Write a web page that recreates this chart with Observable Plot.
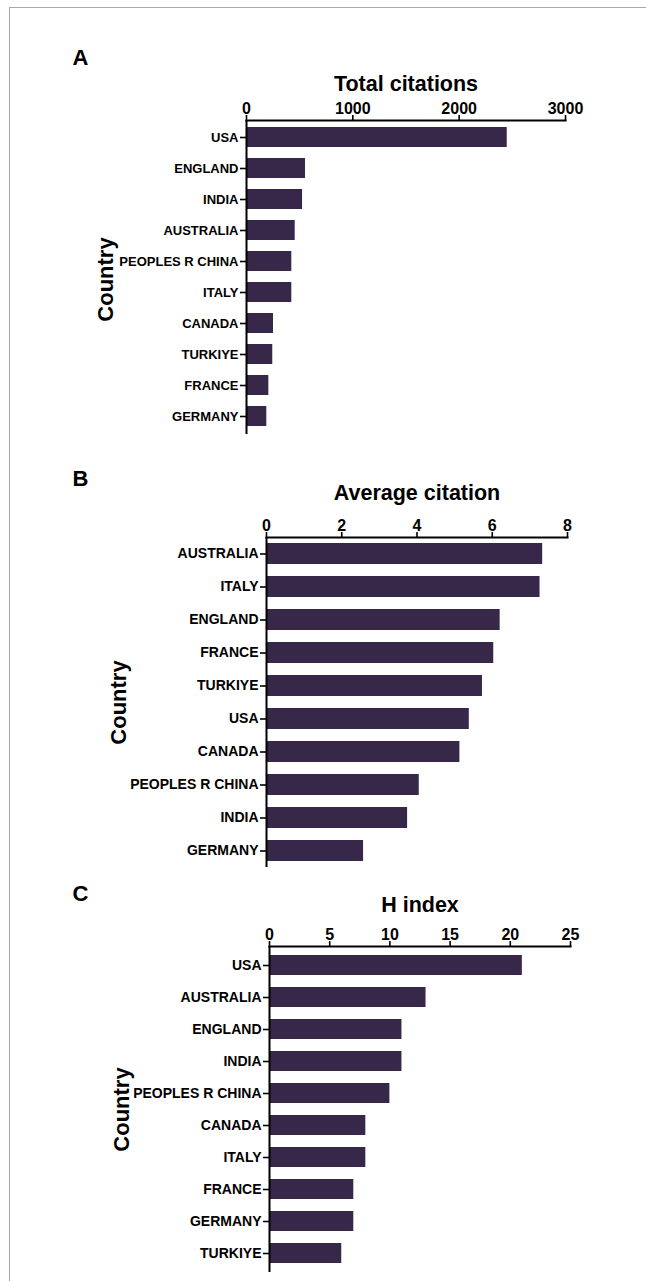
<!DOCTYPE html>
<html>
<head>
<meta charset="utf-8">
<script src="https://cdn.jsdelivr.net/npm/d3@7"></script>
<script src="https://cdn.jsdelivr.net/npm/@observablehq/plot@0.6"></script>
<style>
  html, body { margin: 0; padding: 0; background: #fff; }
  #wrap { position: relative; width: 646px; height: 1281px; overflow: hidden; background: #fff;
          font-family: "Liberation Sans", Arial, sans-serif; }
  #border { position: absolute; left: 9px; top: 7px; right: -2px; bottom: -2px;
            border-left: 1.5px solid #a8a8a8; border-top: 1.5px solid #a8a8a8; }
  .panel { position: absolute; left: 0; }
</style>
</head>
<body>
<div id="wrap"><div id="border"></div></div>
<script>
// ---- data ----
const countriesA = ["USA","ENGLAND","INDIA","AUSTRALIA","PEOPLES R CHINA","ITALY","CANADA","TURKIYE","FRANCE","GERMANY"];
const totalCitations = [2452, 555, 527, 458, 426, 426, 254, 247, 210, 191];

const countriesB = ["AUSTRALIA","ITALY","ENGLAND","FRANCE","TURKIYE","USA","CANADA","PEOPLES R CHINA","INDIA","GERMANY"];
const averageCitation = [7.34, 7.27, 6.21, 6.04, 5.74, 5.39, 5.14, 4.06, 3.75, 2.58];

const countriesC = ["USA","AUSTRALIA","ENGLAND","INDIA","PEOPLES R CHINA","CANADA","ITALY","FRANCE","GERMANY","TURKIYE"];
const hIndex = [21, 13, 11, 11, 10, 8, 8, 7, 7, 6];

const ticksA = [0, 1000, 2000, 3000];
const ticksB = [0, 2, 4, 6, 8];
const ticksC = [0, 5, 10, 15, 20, 25];

const panelLetters = ["A", "B", "C"];
const titles = ["Total citations", "Average citation", "H index"];
const yAxisLabel = "Country";

// ---- drawing ----
const W = 646;
const barColor = "#372749";
const font = "'Liberation Sans', Arial, Helvetica, sans-serif";

function panel(cfg) {
  const data = cfg.countries.map((c, i) => ({country: c, value: cfg.values[i]}));
  const marginTop = cfg.axisY - cfg.top;
  const inner = cfg.step * cfg.countries.length;
  const height = marginTop + inner + cfg.bottomPad;
  const chart = Plot.plot({
    width: W,
    height,
    marginTop,
    marginBottom: cfg.bottomPad,
    marginLeft: cfg.x0,
    marginRight: W - cfg.x1,
    style: {fontFamily: font, background: "transparent", color: "#000", overflow: "visible"},
    x: {domain: [0, cfg.max], axis: null},
    y: {domain: cfg.countries, paddingInner: cfg.padInner, paddingOuter: cfg.padInner / 2, axis: null},
    marks: [
      Plot.barX(data, {x: "value", y: "country", fill: barColor}),
      Plot.axisX({anchor: "top", ticks: cfg.ticks, tickSize: 6, tickPadding: 1, strokeWidth: 1.6,
                  fontSize: 16, fontWeight: "bold", label: null, tickFormat: d => String(d)}),
      Plot.axisY({anchor: "left", tickSize: 6, tickPadding: 2, strokeWidth: 1.6,
                  fontSize: cfg.fontY, fontWeight: "bold", label: null}),
      Plot.ruleX([0], {stroke: "#000", strokeWidth: 2}),
      Plot.frame({anchor: "top", stroke: "#000", strokeWidth: 2}),
      Plot.text([cfg.title], {frameAnchor: "top", lineAnchor: "middle", textAnchor: "middle",
                              dy: cfg.titleDy, fontSize: 21.5, fontWeight: "bold", fill: "#000"}),
      Plot.text([yAxisLabel], {frameAnchor: "left", lineAnchor: "middle", textAnchor: "middle",
                               dx: cfg.countryX - cfg.x0, dy: cfg.countryY,
                               rotate: -90, fontSize: 22, fontWeight: "bold", fill: "#000"}),
      Plot.text([cfg.letter], {frameAnchor: "top-left", lineAnchor: "middle", textAnchor: "middle",
                               dx: 80 - cfg.x0, dy: cfg.letterY - cfg.axisY,
                               fontSize: 22, fontWeight: "bold", fill: "#000"})
    ]
  });
  chart.classList.add("panel");
  chart.style.top = cfg.top + "px";
  document.getElementById("wrap").appendChild(chart);
}

panel({countries: countriesA, values: totalCitations, max: 3000, ticks: ticksA,
       top: 30, axisY: 120, x0: 246, x1: 565, step: 31.4, padInner: 0.34, bottomPad: 8,
       fontY: 13, title: titles[0], titleDy: -36, letter: panelLetters[0], letterY: 57,
       countryX: 105, countryY: 2});

panel({countries: countriesB, values: averageCitation, max: 8, ticks: ticksB,
       top: 450, axisY: 537, x0: 266, x1: 567, step: 33, padInner: 0.355, bottomPad: 8,
       fontY: 14, title: titles[1], titleDy: -44, letter: panelLetters[1], letterY: 478,
       countryX: 118, countryY: 0});

panel({countries: countriesC, values: hIndex, max: 25, ticks: ticksC,
       top: 870, axisY: 946, x0: 269, x1: 570, step: 32.6, padInner: 0.36, bottomPad: 6,
       fontY: 14, title: titles[2], titleDy: -41, letter: panelLetters[2], letterY: 893,
       countryX: 121, countryY: 0});
</script>
</body>
</html>
